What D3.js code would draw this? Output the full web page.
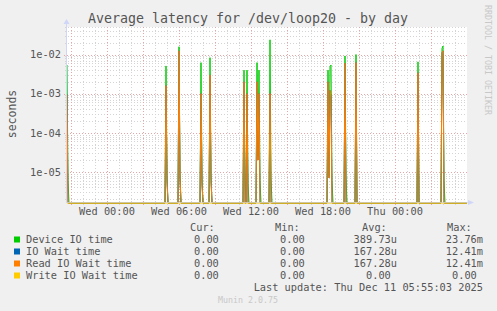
<!DOCTYPE html>
<head>
    <meta charset="utf-8">
    <title>Average latency for /dev/loop20 - by day</title>
    <script src="https://d3js.org/d3.v7.min.js"></script>
    <style>
        body { margin: 0; background: #f0f0f0; }
        svg text { font-family: "DejaVu Sans Mono", monospace; }
    </style>
</head>
<body>
    <svg id="chart" width="497" height="311"></svg>
    <script>
        // samples (5 min steps), zero everywhere else
        var times = [
            "2025-12-09 20:40", "2025-12-09 20:45", "2025-12-09 20:50",
            "2025-12-10 04:50", "2025-12-10 04:55", "2025-12-10 05:00", "2025-12-10 05:05",
            "2025-12-10 05:55", "2025-12-10 06:00", "2025-12-10 06:05", "2025-12-10 06:10",
            "2025-12-10 07:45", "2025-12-10 07:50", "2025-12-10 07:55", "2025-12-10 08:00",
            "2025-12-10 08:30", "2025-12-10 08:35", "2025-12-10 08:40", "2025-12-10 08:45",
            "2025-12-10 11:20", "2025-12-10 11:25", "2025-12-10 11:30", "2025-12-10 11:35",
            "2025-12-10 11:40", "2025-12-10 11:45", "2025-12-10 11:50",
            "2025-12-10 12:25", "2025-12-10 12:30", "2025-12-10 12:35", "2025-12-10 12:40",
            "2025-12-10 12:45", "2025-12-10 12:50",
            "2025-12-10 13:30", "2025-12-10 13:35", "2025-12-10 13:40", "2025-12-10 13:45",
            "2025-12-10 18:20", "2025-12-10 18:25", "2025-12-10 18:30", "2025-12-10 18:35",
            "2025-12-10 18:40", "2025-12-10 18:45", "2025-12-10 18:50",
            "2025-12-10 19:45", "2025-12-10 19:50", "2025-12-10 19:55", "2025-12-10 20:00",
            "2025-12-10 20:40", "2025-12-10 20:45", "2025-12-10 20:50",
            "2025-12-11 01:50", "2025-12-11 01:55", "2025-12-11 02:00",
            "2025-12-11 03:50", "2025-12-11 03:55", "2025-12-11 04:00", "2025-12-11 04:05",
            "2025-12-11 04:10", "2025-12-11 06:00"
        ];
        var deviceIO = [
            5.4e-3, 6e-6, 0,
            0, 5.1e-3, 8e-6, 0,
            0, 1.58e-2, 9e-6, 0,
            0, 6.2e-3, 7e-6, 0,
            0, 8.3e-3, 9e-6, 0,
            0, 4.0e-3, 6e-6, 0,
            4.0e-3, 5e-6, 0,
            0, 6.2e-3, 2.5e-5, 4.0e-3,
            6e-6, 0,
            0, 2.376e-2, 7e-6, 0,
            0, 4.0e-3, 8e-6, 4.9e-3,
            5.4e-3, 6e-6, 0,
            0, 9.2e-3, 8e-6, 0,
            0, 1.0e-2, 0,
            0, 6.5e-3, 0,
            0, 1.44e-2, 1.65e-2, 6e-6,
            0, 0
        ];
        var readWait = [
            9.3e-4, 0, 0,
            0, 1.6e-3, 6e-6, 0,
            0, 1.241e-2, 7e-6, 0,
            0, 1.0e-3, 5e-6, 0,
            0, 3.0e-3, 6e-6, 0,
            0, 2.0e-3, 0, 0,
            1.0e-3, 0, 0,
            0, 2.0e-3, 2.0e-5, 1.0e-3,
            0, 0,
            0, 1.0e-3, 0, 0,
            0, 2.0e-3, 7e-6, 1.2e-3,
            8e-4, 0, 0,
            0, 6.0e-3, 0, 0,
            0, 6.2e-3, 0,
            0, 3.4e-3, 0,
            0, 1.1e-2, 1.24e-2, 0,
            0, 0
        ];
        var ioWait = readWait.slice();          // same as read wait
        var writeWait = times.map(function () { return 0; });

        var yTicks = [1e-5, 1e-4, 1e-3, 1e-2];
        var yTickLabels = ["1e-05", "1e-04", "1e-03", "1e-02"];

        var legendNames = ["Device IO time", "IO Wait time", "Read IO Wait time", "Write IO Wait time"];
        var legendColors = ["#00cc00", "#0066b3", "#ff8000", "#ffcc00"];
        var curVals = ["0.00 ", "0.00 ", "0.00 ", "0.00 "];
        var minVals = ["0.00 ", "0.00 ", "0.00 ", "0.00 "];
        var avgVals = ["389.73u", "167.28u", "167.28u", "0.00 "];
        var maxVals = ["23.76m", "12.41m", "12.41m", "0.00 "];

        (function () {
            var parse = d3.timeParse("%Y-%m-%d %H:%M");
            var dates = times.map(parse);

            var svg = d3.select("#chart");
            var pLeft = 67, pRight = 467, pTop = 27, pBottom = 203;

            svg.append("rect").attr("width", 497).attr("height", 311).attr("fill", "#f0f0f0");
            svg.append("rect").attr("x", pLeft).attr("y", pTop)
                .attr("width", pRight - pLeft).attr("height", pBottom - pTop).attr("fill", "#fff");

            var x = d3.scaleTime()
                .domain([parse("2025-12-09 20:40"), parse("2025-12-11 06:00")])
                .range([pLeft, pRight]);
            var y = d3.scaleLog().domain([1.6e-6, 0.0505]).range([pBottom, pTop]);
            function yv(v) { return v > 1.6e-6 ? y(v) : pBottom; }

            var grid = svg.append("g");
            // minor horizontal (log steps)
            var minorY = [];
            [1e-6, 1e-5, 1e-4, 1e-3, 1e-2].forEach(function (d) {
                for (var k = 2; k <= 9; k++) {
                    var v = d * k;
                    if (v > 1.6e-6 && v < 0.0505) minorY.push(v);
                }
            });
            grid.selectAll(".hmin").data(minorY).enter().append("line")
                .attr("x1", pLeft - 2).attr("x2", pRight)
                .attr("y1", function (d) { return Math.round(y(d)) + 0.5; })
                .attr("y2", function (d) { return Math.round(y(d)) + 0.5; })
                .attr("stroke", "#d4d4d4").attr("stroke-dasharray", "1,2");
            // minor vertical: every hour
            var hours = d3.timeHour.range(x.domain()[0], x.domain()[1]);
            grid.selectAll(".vmin").data(hours).enter().append("line")
                .attr("x1", function (d) { return Math.round(x(d)) + 0.5; })
                .attr("x2", function (d) { return Math.round(x(d)) + 0.5; })
                .attr("y1", pTop).attr("y2", pBottom + 2)
                .attr("stroke", "#d4d4d4").attr("stroke-dasharray", "1,2");
            // major lines
            grid.selectAll(".hmaj").data(yTicks).enter().append("line")
                .attr("x1", pLeft - 3).attr("x2", pRight)
                .attr("y1", function (d) { return Math.round(y(d)) + 0.5; })
                .attr("y2", function (d) { return Math.round(y(d)) + 0.5; })
                .attr("stroke", "#e6a6a6").attr("stroke-dasharray", "1,2");
            var major = d3.timeHour.every(3).range(x.domain()[0], x.domain()[1]);
            grid.selectAll(".vmaj").data(major).enter().append("line")
                .attr("x1", function (d) { return Math.round(x(d)) + 0.5; })
                .attr("x2", function (d) { return Math.round(x(d)) + 0.5; })
                .attr("y1", pTop).attr("y2", pBottom + 3)
                .attr("stroke", "#e6a6a6").attr("stroke-dasharray", "1,2");

            // tick labels
            svg.selectAll(".ylab").data(yTicks).enter().append("text")
                .attr("x", 61).attr("y", function (d) { return y(d) + 3.8; })
                .attr("text-anchor", "end").attr("font-size", "10.3px").attr("fill", "#555")
                .text(function (d, i) { return yTickLabels[i]; });
            var labelTimes = d3.timeHour.every(6).range(x.domain()[0], x.domain()[1]);
            var fmt = d3.timeFormat("%a %H:%M");
            svg.selectAll(".xlab").data(labelTimes).enter().append("text")
                .attr("x", function (d) { return x(d); }).attr("y", 215)
                .attr("text-anchor", "middle").attr("font-size", "10.3px").attr("fill", "#555")
                .text(function (d) { return fmt(d); });

            // series
            svg.append("clipPath").attr("id", "clip").append("rect")
                .attr("x", pLeft).attr("y", pTop).attr("width", pRight - pLeft + 1).attr("height", pBottom - pTop + 1);
            var plot = svg.append("g").attr("clip-path", "url(#clip)");
            var line = d3.line()
                .x(function (d, i) { return x(dates[i]); })
                .y(function (d) { return yv(d); });
            [deviceIO, ioWait, readWait, writeWait].forEach(function (s, i) {
                plot.append("path").datum(s)
                    .attr("d", line)
                    .attr("fill", "none")
                    .attr("stroke", legendColors[i])
                    .attr("stroke-width", 1);
            });

            // axes
            svg.append("line").attr("x1", pLeft - 0.5).attr("x2", pLeft - 0.5)
                .attr("y1", pBottom).attr("y2", pTop - 5).attr("stroke", "#cfd6f8");
            svg.append("path").attr("d", "M63.5,24 L66.5,19 L69.5,24 Z").attr("fill", "#cfd6f8");
            svg.append("line").attr("x1", pLeft).attr("x2", pRight + 4)
                .attr("y1", pBottom - 0.5).attr("y2", pBottom - 0.5).attr("stroke", "#cfd6f8").attr("opacity", 0.6);
            svg.append("path").attr("d", "M468,200 L474,202.5 L468,205 Z").attr("fill", "#cfd6f8");

            // title and side texts
            svg.append("text").attr("x", 248).attr("y", 23).attr("text-anchor", "middle")
                .attr("font-size", "13.3px").attr("fill", "#555")
                .text("Average latency for /dev/loop20 - by day");
            svg.append("text").attr("transform", "translate(16,114) rotate(-90)")
                .attr("text-anchor", "middle").attr("font-size", "11.5px").attr("fill", "#555")
                .text("seconds");
            svg.append("text").attr("transform", "translate(485,5) rotate(90)")
                .attr("font-size", "8.3px").attr("fill", "#c8c8c8")
                .text("RRDTOOL / TOBI OETIKER");

            // legend
            var heads = [["Cur:", 190], ["Min:", 275], ["Avg:", 362], ["Max:", 447]];
            heads.forEach(function (h) {
                svg.append("text").attr("x", h[1]).attr("y", 231)
                    .attr("font-size", "10.3px").attr("fill", "#555").text(h[0]);
            });
            var cols = [[curVals, 225], [minVals, 311], [avgVals, 397], [maxVals, 483]];
            legendNames.forEach(function (name, i) {
                var ry = 243 + i * 12;
                svg.append("rect").attr("x", 14).attr("y", ry - 6.5).attr("width", 6).attr("height", 6)
                    .attr("fill", legendColors[i]);
                svg.append("text").attr("x", 26).attr("y", ry)
                    .attr("font-size", "10.3px").attr("fill", "#555").text(name);
                cols.forEach(function (c) {
                    svg.append("text").attr("x", c[1]).attr("y", ry)
                        .attr("text-anchor", "end").attr("xml:space", "preserve")
                        .style("white-space", "pre")
                        .attr("font-size", "10.3px").attr("fill", "#555").text(c[0][i]);
                });
            });
            svg.append("text").attr("x", 483).attr("y", 290.5).attr("text-anchor", "end")
                .attr("font-size", "10.3px").attr("fill", "#555")
                .text("Last update: Thu Dec 11 05:55:03 2025");
            svg.append("text").attr("x", 248).attr("y", 303).attr("text-anchor", "middle")
                .attr("font-size", "8.3px").attr("fill", "#c8c8c8")
                .text("Munin 2.0.75");
        })();
    </script>
</body>
